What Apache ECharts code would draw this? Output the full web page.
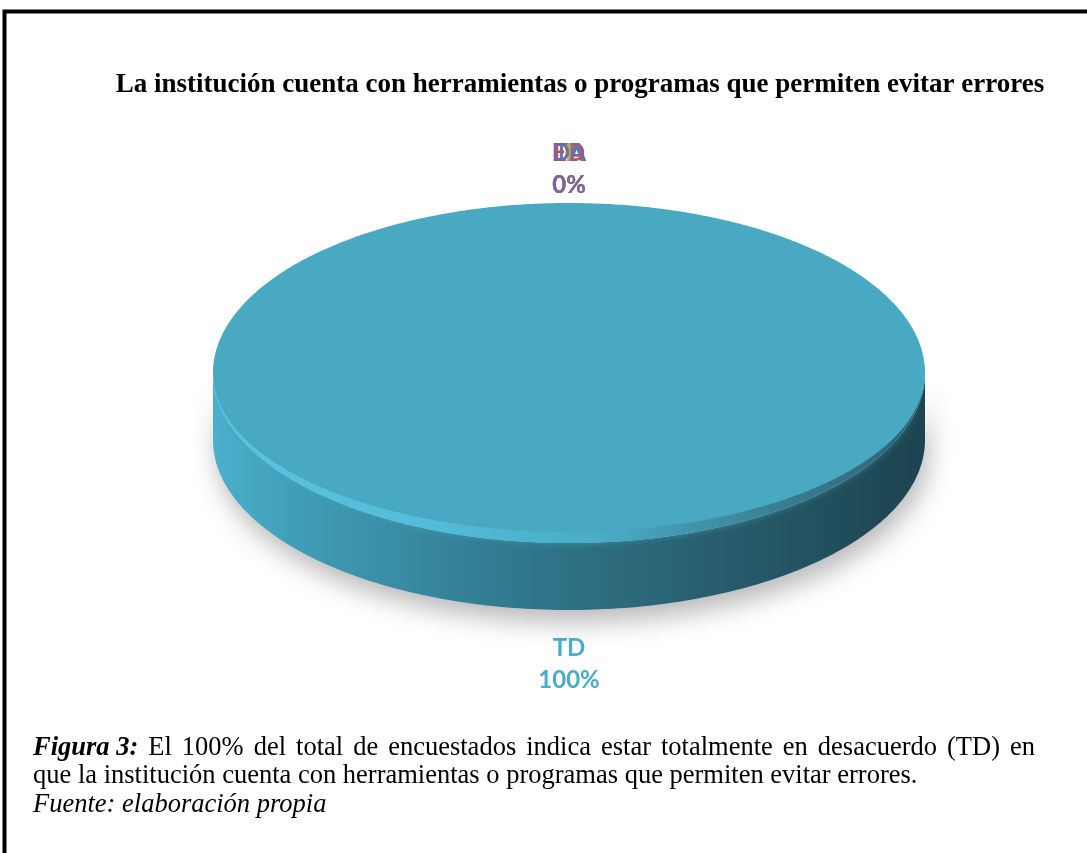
<!DOCTYPE html>
<html lang="es">
<head>
<meta charset="utf-8">
<title>Herramientas para evitar errores</title>
<script src="https://cdn.jsdelivr.net/npm/echarts@6/dist/echarts.min.js"></script>
<style>
  html, body { margin: 0; padding: 0; background: #ffffff; }
  #chart { width: 1087px; height: 853px; }
</style>
</head>
<body>
<div id="chart"></div>
<script>
// Survey answers (Likert scale) and their share of respondents
const categories = ['TA', 'ED', 'I', 'DA', 'TD'];
const values = [0, 0, 0, 0, 100];
const sliceColors = ['#4F81BD', '#C0504D', '#9BBB59', '#8064A2', '#4BACC6'];

const chartTitle = 'La institución cuenta con herramientas o programas que permiten evitar errores';
const captionLead = 'Figura 3:';
const captionLine1 = 'El 100% del total de encuestados indica estar totalmente en desacuerdo (TD) en';
const captionLine2 = 'que la institución cuenta con herramientas o programas que permiten evitar errores.';
const captionSource = 'Fuente: elaboración propia';

// Geometry of the tilted pie (top face ellipse + extruded side)
const PIE = { cx: 569, cy: 373, rx: 356, ry: 170, depth: 67 };
const SERIF = '"Liberation Serif", "Times New Roman", serif';
const LABEL_FONT = 'bold 24px Lato, "Open Sans", sans-serif';

const total = values.reduce((a, b) => a + b, 0);

function ellipsePoint(theta, dy, dry) {
  // theta measured clockwise from 12 o'clock; dry narrows the vertical radius
  return [PIE.cx + PIE.rx * Math.sin(theta), PIE.cy - (PIE.ry - (dry || 0)) * Math.cos(theta) + (dy || 0)];
}

function arcPoints(a0, a1, dy, steps, dry) {
  const pts = [];
  const n = Math.max(2, Math.ceil(steps * (a1 - a0) / (2 * Math.PI)));
  for (let k = 0; k <= n; k++) {
    pts.push(ellipsePoint(a0 + (a1 - a0) * k / n, dy, dry));
  }
  return pts;
}

function renderSlice(params, api) {
  const i = params.dataIndex;
  const v = api.value(0);
  let start = 0;
  for (let j = 0; j < i; j++) start += values[j];
  const a0 = start / total * 2 * Math.PI;
  const a1 = (start + v) / total * 2 * Math.PI;
  const children = [];
  const left = PIE.cx - PIE.rx, right = PIE.cx + PIE.rx;

  if (a1 > a0) {
    const full = (a1 - a0) >= 2 * Math.PI - 1e-9;
    // Front wall: visible between 3 o'clock and 9 o'clock
    const s0 = Math.max(a0, Math.PI / 2), s1 = Math.min(a1, 3 * Math.PI / 2);
    if (s1 > s0) {
      const topEdge = arcPoints(s0, s1, 0, 360);
      const bottomEdge = arcPoints(s0, s1, PIE.depth, 360).reverse();
      children.push({
        type: 'polygon',
        shape: { points: topEdge.concat(bottomEdge) },
        style: {
          fill: new echarts.graphic.LinearGradient(left, 0, right, 0, [
            { offset: 0, color: '#4CB0CC' },
            { offset: 0.12, color: '#409DB7' },
            { offset: 0.4, color: '#317B90' },
            { offset: 0.7, color: '#285E6E' },
            { offset: 1, color: '#1D4350' }
          ], true),
          shadowBlur: 26,
          shadowColor: 'rgba(0,0,0,0.28)',
          shadowOffsetX: 4,
          shadowOffsetY: 12
        },
        z2: 1
      });
    }
    // Top face
    let facePts;
    if (full) {
      facePts = arcPoints(0, 2 * Math.PI, 0, 720);
    } else {
      facePts = [[PIE.cx, PIE.cy]].concat(arcPoints(a0, a1, 0, 720));
    }
    children.push({
      type: 'polygon',
      shape: { points: facePts },
      style: { fill: sliceColors[i] === '#4BACC6' ? '#49A9C3' : sliceColors[i] },
      z2: 2
    });
    // Soft bevel: crescent along the front rim of the top face
    if (s1 > s0) {
      const outer = arcPoints(s0, s1, 0, 360);
      const inner = arcPoints(s0, s1, 0, 360, 11).reverse();
      children.push({
        type: 'polygon',
        shape: { points: outer.concat(inner) },
        style: {
          opacity: 0.8,
          fill: new echarts.graphic.LinearGradient(left, 0, right, 0, [
            { offset: 0, color: '#5ECAE7' },
            { offset: 0.3, color: '#57C2DF' },
            { offset: 0.55, color: '#4AACC7' },
            { offset: 0.8, color: '#367382' },
            { offset: 1, color: '#28505C' }
          ], true),
          shadowBlur: 6,
          shadowColor: 'rgba(70,165,190,0.8)'
        },
        z2: 3
      });
    }
  }

  // Outside label: category name + percentage
  const mid = (a0 + a1) / 2;
  const back = Math.cos(mid) >= 0;
  const p = ellipsePoint(mid, 0);
  const lx = Math.abs(Math.sin(mid)) > 0.01 ? PIE.cx + (PIE.rx + 20) * Math.sin(mid) : PIE.cx;
  const ly = back ? p[1] - 2 : p[1] + PIE.depth + 22;
  const pct = Math.round(v / total * 100) + '%';
  children.push({
    type: 'text',
    style: {
      text: categories[i] + '\n' + pct,
      x: lx,
      y: ly,
      align: 'center',
      verticalAlign: back ? 'bottom' : 'top',
      font: LABEL_FONT,
      lineHeight: 32,
      fill: sliceColors[i]
    },
    z2: 10 + i
  });

  return { type: 'group', children: children };
}

// Caption: first line is justified across the text block
const measureCtx = document.createElement('canvas').getContext('2d');
function textWidth(text, font) {
  measureCtx.font = font;
  return measureCtx.measureText(text).width;
}

const CAPTION = { left: 33, right: 1035, size: 26.5 };
const fontRegular = CAPTION.size + 'px ' + SERIF;
const fontBoldItalic = 'italic bold ' + CAPTION.size + 'px ' + SERIF;
const fontItalic = 'italic ' + CAPTION.size + 'px ' + SERIF;

function captionElements() {
  const els = [];
  const words = [{ t: captionLead, f: fontBoldItalic }].concat(
    captionLine1.split(' ').map(t => ({ t: t, f: fontRegular }))
  );
  const used = words.reduce((s, w) => s + textWidth(w.t, w.f), 0);
  const gap = (CAPTION.right - CAPTION.left - used) / (words.length - 1);
  let x = CAPTION.left;
  words.forEach(w => {
    els.push({
      type: 'text',
      style: { text: w.t, x: x, y: 748, font: w.f, fill: '#000', verticalAlign: 'middle', align: 'left' }
    });
    x += textWidth(w.t, w.f) + gap;
  });
  els.push({
    type: 'text',
    style: { text: captionLine2, x: CAPTION.left, y: 776, font: fontRegular, fill: '#000', verticalAlign: 'middle', align: 'left' }
  });
  els.push({
    type: 'text',
    style: { text: captionSource, x: CAPTION.left, y: 805, font: fontItalic, fill: '#000', verticalAlign: 'middle', align: 'left' }
  });
  return els;
}

const chart = echarts.init(document.getElementById('chart'), null, { renderer: 'canvas' });
chart.setOption({
  backgroundColor: '#ffffff',
  animation: false,
  graphic: {
    elements: [
      {
        type: 'rect',
        shape: { x: 4.5, y: 11.5, width: 1300, height: 1000 },
        style: { fill: null, stroke: '#000000', lineWidth: 4 }
      },
      {
        type: 'text',
        style: {
          text: chartTitle,
          x: 580,
          y: 85,
          align: 'center',
          verticalAlign: 'middle',
          font: 'bold 27px ' + SERIF,
          fill: '#000000'
        }
      }
    ].concat(captionElements())
  },
  series: [
    {
      type: 'custom',
      coordinateSystem: 'none',
      renderItem: renderSlice,
      data: values.map((v, k) => ({ name: categories[k], value: [v] })),
      silent: true
    }
  ]
});
</script>
</body>
</html>
